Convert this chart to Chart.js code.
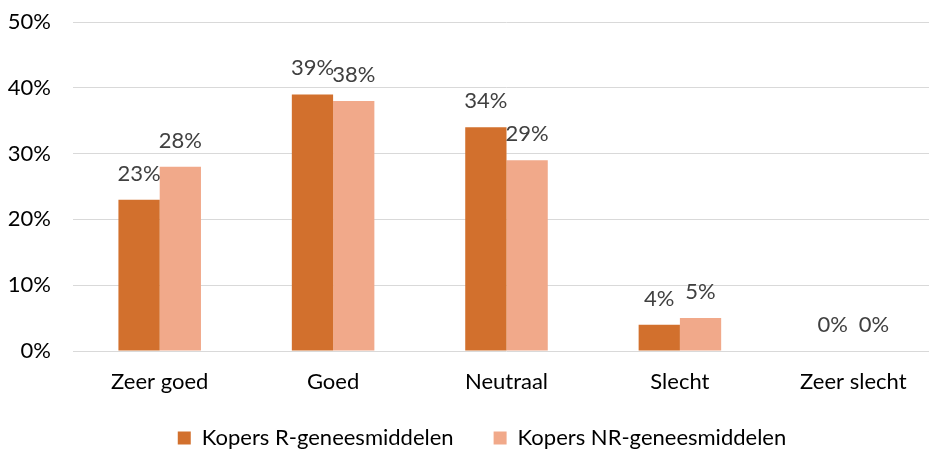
<!DOCTYPE html>
<html>
<head>
<meta charset="utf-8">
<script src="https://cdn.jsdelivr.net/npm/chart.js@4.4.1/dist/chart.umd.min.js"></script>
<style>
  html, body { margin: 0; padding: 0; background: #fff; overflow: hidden; }
  #box { width: 940px; height: 468px; }
</style>
</head>
<body>
<div id="box"><canvas id="grafico" width="940" height="468"></canvas></div>
<script>
// categorieën en waarden (in %)
const categorieen = ['Zeer goed', 'Goed', 'Neutraal', 'Slecht', 'Zeer slecht'];
const kopersR     = [23, 39, 34, 4, 0];
const kopersNR    = [28, 38, 29, 5, 0];
const yMax        = 50;
const yStap       = 10;

const fam = 'Lato, "Open Sans", sans-serif';

// ───────────────────────── labels boven de staven + legenda bijstellen
const waardeLabels = {
  id: 'waardeLabels',
  afterLayout (chart) {
    // legenda iets naar rechts en omhoog, zoals in het origineel
    const lg = chart.legend;
    lg.left += 12; lg.right += 12;
    lg.top  -= 9;  lg.bottom -= 9;
  },
  afterDatasetsDraw (chart) {
    const ctx = chart.ctx;
    ctx.save();
    ctx.font = `22px ${fam}`;
    ctx.fillStyle = '#404040';
    ctx.textAlign = 'center';
    ctx.textBaseline = 'middle';
    chart.data.datasets.forEach((ds, i) => {
      chart.getDatasetMeta(i).data.forEach((bar, j) => {
        ctx.fillText(ds.data[j] + '%', bar.x, bar.y - 26);
      });
    });
    ctx.restore();
  }
};

new Chart(document.getElementById('grafico').getContext('2d'), {
  type: 'bar',
  data: {
    labels: categorieen,
    datasets: [
      { label: 'Kopers R-geneesmiddelen',  data: kopersR,  backgroundColor: '#D2702D' },
      { label: 'Kopers NR-geneesmiddelen', data: kopersNR, backgroundColor: '#F1A98A' }
    ]
  },
  options: {
    responsive: false,
    animation: false,
    layout: { padding: { left: 0, top: 0, right: 0, bottom: 0 } },
    datasets: { bar: { categoryPercentage: 0.476, barPercentage: 1 } },
    scales: {
      x: {
        afterFit: s => { s.height = 45; },
        grid: { display: false, drawTicks: false },
        border: { display: false },
        ticks: { color: '#000', padding: 18, font: { family: fam, size: 22 } }
      },
      y: {
        min: 0, max: yMax,
        afterFit: s => { s.width = 73; s.paddingTop = 22; },
        grid: { color: '#D9D9D9', lineWidth: 1, drawTicks: false },
        border: { display: false },
        ticks: { color: '#000', padding: 22, stepSize: yStap, font: { family: fam, size: 22 },
                 callback: v => v + '%' }
      }
    },
    plugins: {
      legend: {
        position: 'bottom',
        labels: { boxWidth: 13, boxHeight: 13, padding: 40, color: '#000',
                  font: { family: fam, size: 22 } }
      },
      tooltip: { enabled: false }
    }
  },
  plugins: [waardeLabels]
});
</script>
</body>
</html>
